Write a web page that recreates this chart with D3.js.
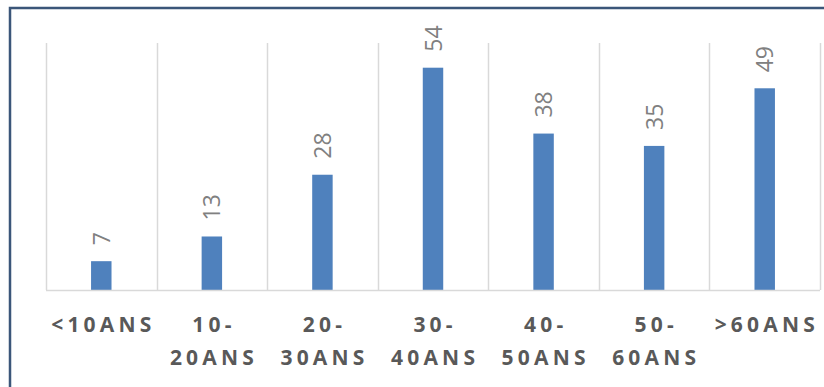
<!DOCTYPE html>
<html><head><meta charset="utf-8">
<script src="https://cdn.jsdelivr.net/npm/d3@7"></script>
<style>body{margin:0;background:#fff;}svg{display:block;}</style>
</head><body>
<script>
const categories = ["<10ANS", "10-20ANS", "20-30ANS", "30-40ANS", "40-50ANS", "50-60ANS", ">60ANS"];
const categoryLines = [["<10ANS"], ["10-", "20ANS"], ["20-", "30ANS"], ["30-", "40ANS"], ["40-", "50ANS"], ["50-", "60ANS"], [">60ANS"]];
const values = [7, 13, 28, 54, 38, 35, 49];
const yDomain = [0, 60];

const W = 824, H = 387;
const svg = d3.select("body").append("svg").attr("width", W).attr("height", H);

svg.append("rect").attr("x", 10).attr("y", 8).attr("width", 840).attr("height", 420)
  .attr("fill", "#fff").attr("stroke", "#3B5679").attr("stroke-width", 2.5);

const x = d3.scaleBand().domain(categories).range([46, 820]).padding(0);
const y = d3.scaleLinear().domain(yDomain).range([290, 43]);

const grid = svg.append("g");
const edges = categories.map(c => x(c)).concat([x.range()[1]]);
grid.selectAll("line").data(edges).join("line")
  .attr("x1", d => Math.round(d) + 0.5).attr("x2", d => Math.round(d) + 0.5)
  .attr("y1", y(yDomain[1])).attr("y2", y(0))
  .attr("stroke", "#D9D9D9").attr("stroke-width", 1.5);

const bw = x.bandwidth() * 0.185;
svg.append("g").selectAll("rect").data(values).join("rect")
  .attr("x", (d, i) => x(categories[i]) + x.bandwidth() / 2 - bw / 2)
  .attr("width", bw)
  .attr("y", d => y(d))
  .attr("height", d => y(0) - y(d))
  .attr("fill", "#4F81BD");

svg.append("line").attr("x1", x.range()[0]).attr("x2", x.range()[1])
  .attr("y1", y(0) + 0.5).attr("y2", y(0) + 0.5)
  .attr("stroke", "#D9D9D9").attr("stroke-width", 1.5);

svg.append("g").selectAll("text").data(values).join("text")
  .attr("transform", (d, i) => `translate(${x(categories[i]) + x.bandwidth() / 2 + 8.5},${y(d) - 16}) rotate(-90)`)
  .attr("text-anchor", "start")
  .attr("font-family", "'Open Sans', sans-serif")
  .attr("font-size", 23)
  .attr("fill", "#808080")
  .text(d => d);

const ls = 4.2;
const xl = svg.append("g");
categoryLines.forEach((lines, i) => {
  const cx = x(categories[i]) + x.bandwidth() / 2 + ls / 2;
  const t = xl.append("text")
    .attr("text-anchor", "middle")
    .attr("font-family", "'Open Sans', sans-serif")
    .attr("font-weight", "bold")
    .attr("font-size", 21)
    .attr("letter-spacing", ls)
    .attr("fill", "#595959");
  lines.forEach((l, j) => {
    t.append("tspan").attr("x", cx).attr("y", 332 + j * 33).text(l);
  });
});
</script>
</body></html>
